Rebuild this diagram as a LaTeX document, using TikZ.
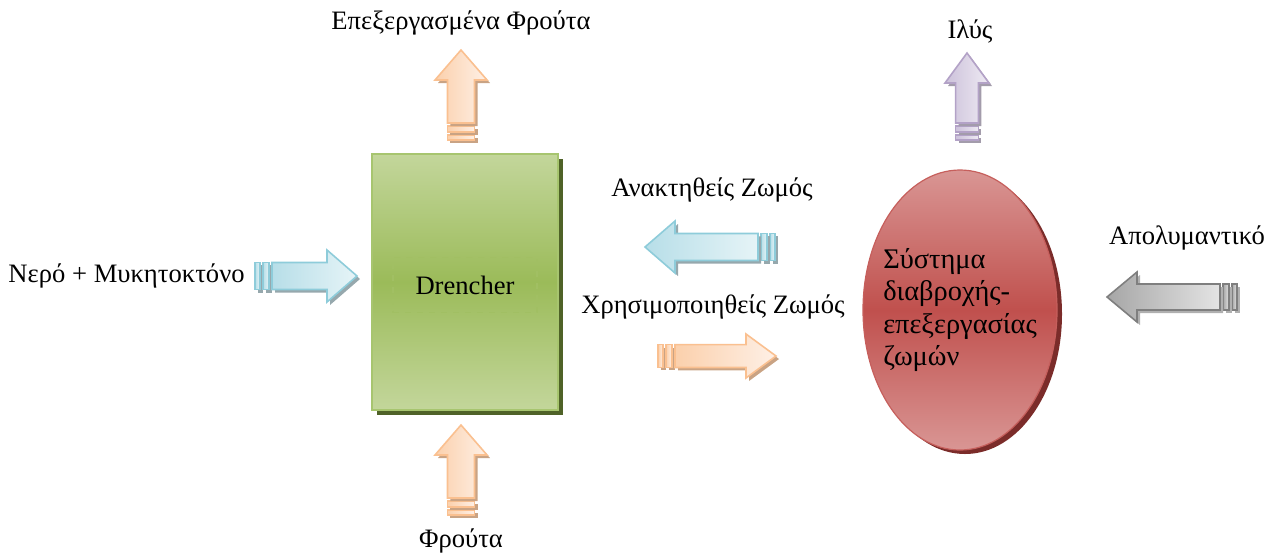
\documentclass[tikz,border=0pt]{standalone}
\usepackage{fontspec}
\setmainfont{Liberation Serif}
\usetikzlibrary{
  shadows,
  shapes.geometric
}
\definecolor{greenlight}{HTML}{C3D69B}
\definecolor{greenmid}{HTML}{9BBB59}
\definecolor{greenline}{HTML}{A7C56F}
\definecolor{greenshade}{HTML}{4F6228}
\definecolor{redlight}{HTML}{D99694}
\definecolor{redmid}{HTML}{C0504D}
\definecolor{redline}{HTML}{C65F5C}
\definecolor{redshade}{HTML}{7B2C2A}
\definecolor{bluelight}{HTML}{E6F4F7}
\definecolor{bluemid}{HTML}{B7DEE8}
\definecolor{blueline}{HTML}{8ECCDA}
\definecolor{blueshade}{HTML}{96A8AD}
\definecolor{orangelight}{HTML}{FEF0E6}
\definecolor{orangemid}{HTML}{FBD0AC}
\definecolor{orangeline}{HTML}{FAC090}
\definecolor{orangeshade}{HTML}{C9A384}
\definecolor{purplelight}{HTML}{EEEAF3}
\definecolor{purplemid}{HTML}{CCC1DA}
\definecolor{purpleline}{HTML}{B3A2C7}
\definecolor{purpleshade}{HTML}{A39CAB}
\definecolor{graylight}{HTML}{E4E4E4}
\definecolor{graymid}{HTML}{A6A6A6}
\definecolor{grayline}{HTML}{7F7F7F}
\definecolor{grayshade}{HTML}{B0B0B0}
\tikzset{
  % One part of a striped block arrow.
  arrow part/.style={
    line width=0.8pt,
    line join=miter},
%
  % Striped block arrow: tail at the origin, pointing along x.
  % #1 = length, #2 = half width of the head.
  pics/stripe arrow/.style 2 args={
    code={
      \pgfmathsetmacro\shaft{0.52*#2}
      \path[arrow part] (0,-\shaft) rectangle (5,\shaft);
      \path[arrow part] (8,-\shaft) rectangle (14,\shaft);
      \path[arrow part] (17,-\shaft) -- ({#1-30},-\shaft) -- ({#1-30},-#2)
        -- (#1,0) -- ({#1-30},#2) -- ({#1-30},\shaft) -- (17,\shaft) -- cycle;
    }},
%
  % Colour sets for the arrows.
  arrow colors/.style n args={4}{
    arrow part/.append style={
      draw=#3,
      left color=#2,
      right color=#1,
      general shadow={fill=#4, shadow xshift=1.5pt, shadow yshift=-1.5pt}}},
  blue arrow/.style={arrow colors={bluelight}{bluemid}{blueline}{blueshade}},
  orange arrow/.style={arrow colors={orangelight}{orangemid}{orangeline}{orangeshade}},
  purple arrow/.style={arrow colors={purplelight}{purplemid}{purpleline}{purpleshade}},
  gray arrow/.style={arrow colors={graylight}{graymid}{grayline}{grayshade}},
%
  % The drencher itself.
  drencher box/.style={
    rectangle,
    draw=greenline,
    line width=1pt,
    top color=greenlight,
    bottom color=greenlight,
    middle color=greenmid,
    minimum width=93pt,
    minimum height=128pt,
    general shadow={fill=greenshade, shadow xshift=2.5pt, shadow yshift=-2.5pt}},
%
  % Faint frame round the box text.
  text frame/.style={
    draw=greenmid!85!greenlight,
    dashed,
    line width=0.8pt,
    minimum width=72pt,
    minimum height=27.5pt},
%
  % The broth system.
  broth tank/.style={
    ellipse,
    draw=redline,
    line width=0.6pt,
    top color=redlight,
    bottom color=redlight,
    middle color=redmid,
    minimum width=97pt,
    minimum height=140pt,
    inner xsep=-12pt,
    inner ysep=0pt,
    align=left,
    font=\fontsize{14.2}{16.2}\selectfont,
    general shadow={fill=redshade, shadow xshift=2.5pt, shadow yshift=-2pt}},
%
  % For stream names.
  stream/.style={
    inner sep=1pt},
}
\begin{document}
\begin{tikzpicture}[x=0.5pt, y=-0.5pt, font=\fontsize{13.3}{16.5}\selectfont]
  \useasboundingbox (0,0) rectangle (1274,553);

  \node[drencher box] (drencher) at (465,282) {};
  \node[text frame] (drencher text) at (465,285) {Drencher};

  \node[broth tank] (broth) at (960,310)
    {Σύστημα\\διαβροχής-\\επεξεργασίας\\ζωμών};

  % Arrows into and out of the drencher.
  \pic[blue arrow] (water arrow) at (255,276) {stripe arrow={102}{26}};
  \pic[orange arrow, rotate=90] (treated arrow) at (461,140) {stripe arrow={90}{26}};
  \pic[orange arrow, rotate=90] (fruit arrow) at (461,515) {stripe arrow={90}{26}};

  % Broth circuit.
  \pic[blue arrow, rotate=180] (recovered arrow) at (775,247) {stripe arrow={130}{26}};
  \pic[orange arrow] (used arrow) at (658,356) {stripe arrow={118}{22}};

  % Arrows of the broth system.
  \pic[purple arrow, rotate=90] (sludge arrow) at (967,140) {stripe arrow={87}{22}};
  \pic[gray arrow, rotate=180] (disinfectant arrow) at (1237,297) {stripe arrow={130}{25}};

  \node[stream, anchor=east] (water) at (247,276) {Νερό + Μυκητοκτόνο};
  \node[stream] (treated) at (461,23) {Επεξεργασμένα Φρούτα};
  \node[stream] (fruit) at (461,541) {Φρούτα};
  \node[stream] (recovered) at (712,190) {Ανακτηθείς Ζωμός};
  \node[stream] (used) at (713,307) {Χρησιμοποιηθείς Ζωμός};
  \node[stream] (sludge) at (970,31) {Ιλύς};
  \node[stream] (disinfectant) at (1187,238) {Απολυμαντικό};
\end{tikzpicture}
\end{document}
